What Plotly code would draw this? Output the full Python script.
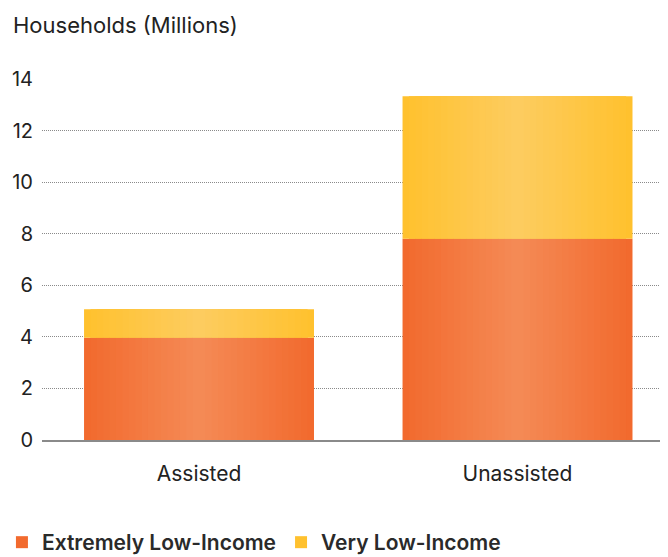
import plotly.graph_objects as go

categories = ["Assisted", "Unassisted"]
extremely_low = [3.97, 7.8]
very_low = [1.1, 5.53]
y_ticks = [0, 2, 4, 6, 8, 10, 12, 14]

series_names = ["Extremely Low-Income", "Very Low-Income"]
edge_colors = [(242, 106, 46), (255, 193, 46)]
center_colors = [(244, 138, 85), (253, 204, 95)]

FONT = "Inter"
BAR_W = 0.722
N = 18

fig = go.Figure()

def mix(c1, c2, t):
    return "rgb(%d,%d,%d)" % tuple(round(a + (b - a) * t) for a, b in zip(c1, c2))

for k in range(N):
    frac = 1 - k / N
    w = BAR_W * frac
    t = k / (N - 1)
    fig.add_trace(go.Bar(
        x=categories, y=extremely_low, width=w,
        marker=dict(color=mix(edge_colors[0], center_colors[0], t), line=dict(width=0)),
        name=series_names[0], legendgroup="eli", showlegend=(k == 0),
        hoverinfo="skip" if k else None,
    ))
    fig.add_trace(go.Bar(
        x=categories, y=very_low, base=extremely_low, width=w,
        marker=dict(color=mix(edge_colors[1], center_colors[1], t), line=dict(width=0)),
        name=series_names[1], legendgroup="vli", showlegend=(k == 0),
        hoverinfo="skip" if k else None,
    ))

# page body has an 8px margin, so the figure is sized to fit the rest of the window
fig.update_layout(
    width=660, height=549,
    barmode="overlay",
    plot_bgcolor="white", paper_bgcolor="white",
    margin=dict(l=34, r=0, t=71, b=117, autoexpand=False),
    font=dict(family=FONT, color="#222222", size=20),
    showlegend=True,
    legend=dict(
        orientation="h", x=-0.064, xanchor="left", y=-0.284, yanchor="middle",
        font=dict(family=FONT, size=21, color="#2a2a2a", weight=600),
        itemsizing="constant", traceorder="normal", itemwidth=30,
        bgcolor="rgba(0,0,0,0)",
    ),
    xaxis=dict(
        type="category", range=[-0.493, 1.4725],
        showgrid=False, showline=True, linecolor="#8a8a8a", linewidth=2,
        ticks="", ticklabelstandoff=14,
        tickfont=dict(family=FONT, size=21, color="#222222"),
    ),
    yaxis=dict(
        range=[0, 14], tickvals=y_ticks,
        showgrid=True, gridcolor="#8a8a8a", griddash="1px,1px", gridwidth=1,
        zeroline=False, showline=False, ticks="", ticklabelstandoff=8,
        tickfont=dict(family=FONT, size=20, color="#222222"),
    ),
    annotations=[dict(
        text="Households (Millions)", xref="paper", yref="paper",
        x=-0.05, y=1.15, xanchor="left", yanchor="middle", showarrow=False,
        font=dict(family=FONT, size=22, color="#222222"),
    )],
)

fig.write_html("out.html")
